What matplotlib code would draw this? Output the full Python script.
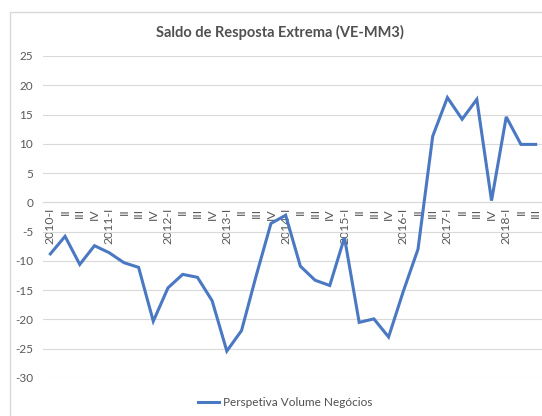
import matplotlib
matplotlib.use("Agg")
import matplotlib.pyplot as plt
from matplotlib.patches import Rectangle

plt.rcParams['font.family'] = ['Lato', 'DejaVu Sans']

quarters = []
for yr in range(2010, 2019):
    for q in ["I", "II", "III", "IV"]:
        if yr == 2016 and q == "IV":
            continue  # not in the source series
        if yr == 2018 and q == "IV":
            continue
        quarters.append(f"{yr}-I" if q == "I" else q)

saldo = [-8.8, -5.8, -10.6, -7.4, -8.6, -10.3, -11.1, -20.3, -14.6, -12.3,
         -12.8, -16.8, -25.4, -21.9, -12.5, -3.6, -2.2, -10.9, -13.3, -14.2,
         -6.0, -20.5, -19.9, -23.0, -15.2, -8.0, 11.3, 17.9, 14.2, 17.6,
         0.3, 14.6, 9.9, 9.9]
yticks = [-30, -25, -20, -15, -10, -5, 0, 5, 10, 15, 20, 25]

W, H = 542, 416
fig = plt.figure(figsize=(W / 100, H / 100), dpi=100)
# chart area border (extends past the right and bottom edges)
fig.patches.append(Rectangle((10 / W, -0.1), 1.2, 1.1 - 12 / H, transform=fig.transFigure,
                             fill=False, edgecolor='#d9d9d9', lw=1))

ax = fig.add_axes([43 / W, 1 - 378 / H, 500 / W, (378 - 56) / H])
ax.plot(range(len(saldo)), saldo, color='#4a78c2', lw=2.2, solid_joinstyle='miter',
        label='Perspetiva Volume Negócios', zorder=3)

ax.set_xlim(-0.5, len(saldo) - 0.5)
ax.set_ylim(-30, 25)
ax.grid(axis='y', color='#d9d9d9', lw=0.8)
ax.set_axisbelow(True)
for s in ['top', 'right', 'left']:
    ax.spines[s].set_visible(False)
# category axis crosses at zero, like the Excel original
ax.spines['bottom'].set_position(('data', 0))
ax.spines['bottom'].set_color('#d9d9d9')
ax.set_yticks(yticks)
ax.set_yticklabels([str(t) for t in yticks])
ax.set_xticks(range(len(quarters)))
ax.set_xticklabels(quarters)
ax.tick_params(axis='y', length=0, pad=7, labelsize=8.5, labelcolor='#595959')
ax.tick_params(axis='x', length=0, pad=4, labelsize=8.8, labelcolor='#595959',
               labelrotation=90)

fig.text(280 / W, 1 - 32 / H, 'Saldo de Resposta Extrema (VE-MM3)', ha='center', va='center',
         fontsize=10.5, fontweight='bold', color='#505050')
fig.legend(loc='center', bbox_to_anchor=(285 / W, 1 - 403 / H), frameon=False,
           fontsize=8.5, labelcolor='#505050', handlelength=1.8, handletextpad=0.3)

fig.savefig('out.png', dpi=100)
